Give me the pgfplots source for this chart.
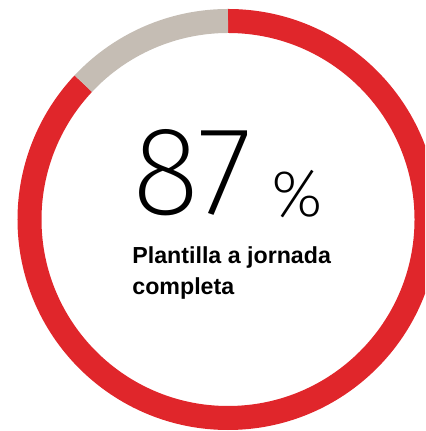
\documentclass[border=0pt]{standalone}
\usepackage{pgfplots}
\usepackage{pgfplotstable}
\pgfplotsset{compat=1.18}
\usepackage{fontspec}
\setmainfont{Liberation Sans}
\newfontfamily\lightfont{Fira Sans ExtraLight}
\definecolor{ringred}{HTML}{E0262B}
\definecolor{ringgray}{HTML}{C5BDB4}
\pgfplotstableread{
label value
Completa 87
Parcial 13
}\datatable
\begin{document}
\begin{tikzpicture}
\pgfplotstablegetelem{0}{value}\of\datatable
\let\vA\pgfplotsretval
\pgfplotstablegetelem{1}{value}\of\datatable
\let\vB\pgfplotsretval
\pgfmathsetmacro{\endA}{90-3.6*\vA}
\pgfmathsetmacro{\endB}{90+3.6*\vB}
\begin{axis}[
  hide axis, scale only axis,
  width=212.5pt, height=215.5pt,
  xmin=-228, xmax=197, ymin=-211.5, ymax=219.5,
  clip=true,
]
\addplot[draw=none, forget plot] coordinates {(0,0)};
\draw[ringred, line width=12pt] (axis cs:0,0) ++(90:99.25pt) arc[start angle=90, end angle=\endA, radius=99.25pt];
\draw[ringgray, line width=12pt] (axis cs:0,0) ++(90:99.25pt) arc[start angle=90, end angle=\endB, radius=99.25pt];
\node[anchor=base west, inner sep=0pt, font=\lightfont\fontsize{63}{63}\selectfont] at (axis cs:-96,4.5) {87};
\node[anchor=base west, inner sep=0pt, font=\lightfont\fontsize{33}{33}\selectfont] at (axis cs:43,2.5) {\%};
\node[anchor=base west, inner sep=0pt, font=\bfseries\fontsize{11.6}{13}\selectfont] at (axis cs:-96,-44.5) {Plantilla a jornada};
\node[anchor=base west, inner sep=0pt, font=\bfseries\fontsize{11.6}{13}\selectfont] at (axis cs:-96,-75.5) {completa};
\end{axis}
\pgfresetboundingbox
\useasboundingbox (current axis.south west) rectangle (current axis.north east);
\end{tikzpicture}
\end{document}
